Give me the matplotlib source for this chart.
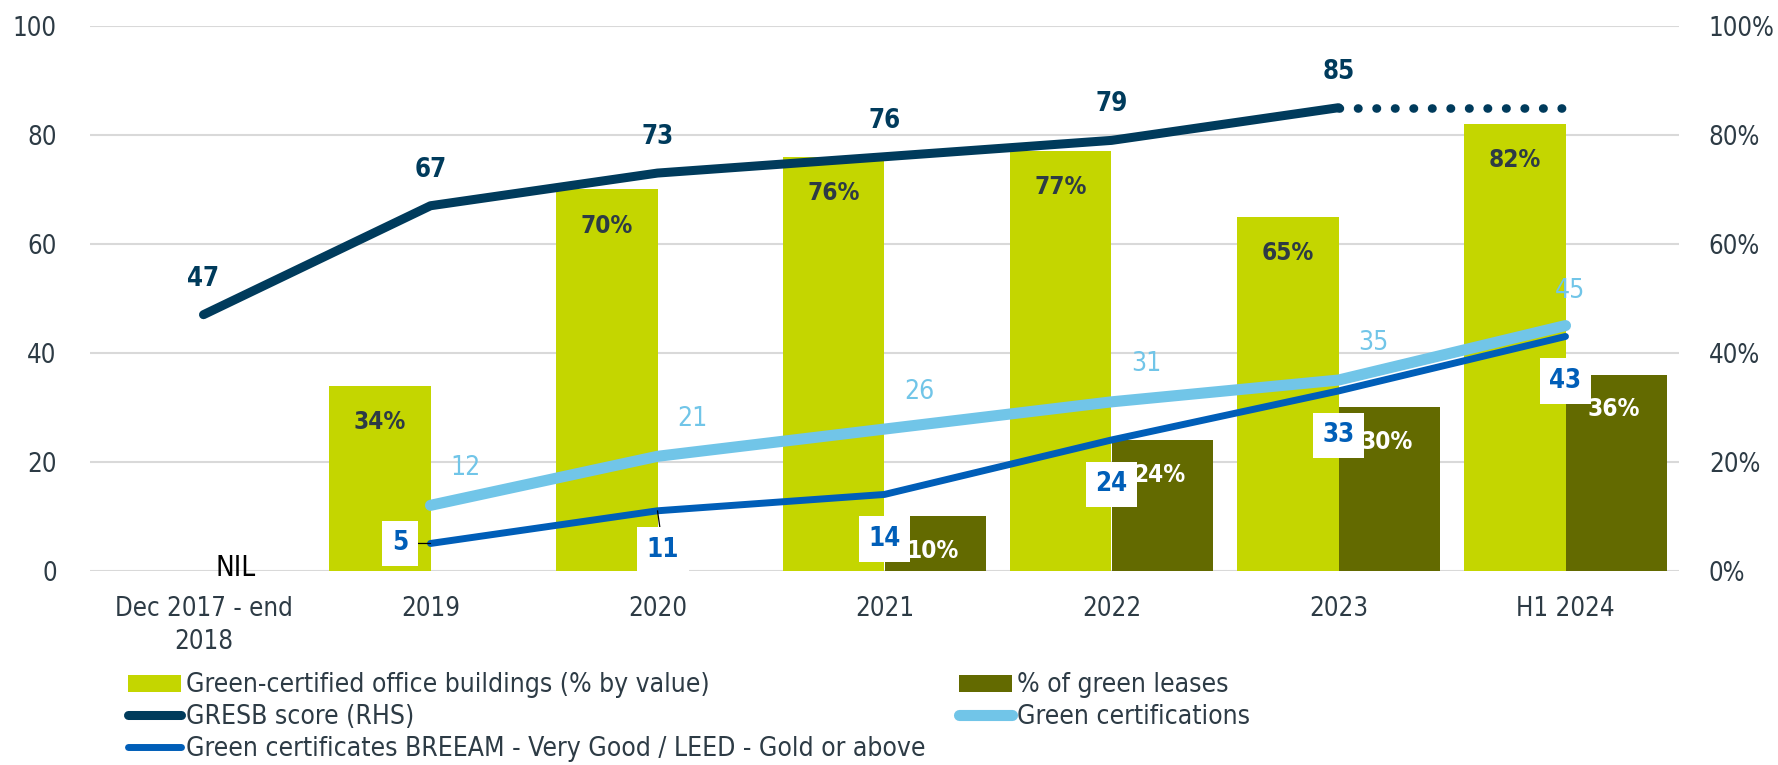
import matplotlib
matplotlib.use('Agg')
import matplotlib.pyplot as plt
import numpy as np
from matplotlib.patches import Patch
from matplotlib.lines import Line2D

plt.rcParams['font.family'] = ['DejaVu Sans']
plt.rcParams['font.stretch'] = 'condensed'

# Datos
categorias = ['Dec 2017 - end\n2018', '2019', '2020', '2021', '2022', '2023', 'H1 2024']
edificios_verdes = [np.nan, 34, 70, 76, 77, 65, 82]      # % por valor
arriendos_verdes = [np.nan, np.nan, np.nan, 10, 24, 30, 36]
gresb = [47, 67, 73, 76, 79, 85]                          # 2017-18 .. 2023
certificaciones = [np.nan, 12, 21, 26, 31, 35, 45]
breeam_leed = [np.nan, 5, 11, 14, 24, 33, 43]

# Colores
c_verde = '#c4d600'
c_oliva = '#636a00'
c_marino = '#003b5c'
c_celeste = '#71c5e8'
c_azul = '#005eb8'
c_texto = '#2d3b45'

fig = plt.figure(figsize=(17.78, 7.65), dpi=100)
ax = fig.add_axes([90/1778, 194.3/765, 1589/1778, 544.7/765])
ax2 = ax.twinx()

x = np.arange(len(categorias))
w = 0.445
ev = np.array(edificios_verdes, dtype=float)
av = np.array(arriendos_verdes, dtype=float)
m1 = ~np.isnan(ev)
m2 = ~np.isnan(av)

ax.bar(x[m1] - w/2, ev[m1], w, color=c_verde, zorder=2)
ax.bar(x[m2] + w/2, av[m2], w, color=c_oliva, zorder=2)

# Etiquetas de barras
for xi, v in zip(x[m1], ev[m1]):
    ax.annotate('{:.0f}%'.format(v), (xi - w/2, v), xytext=(0, -26), textcoords='offset points',
                ha='center', va='center', fontsize=17.5, fontweight='bold', color=c_texto, zorder=6)
for xi, v in zip(x[m2], av[m2]):
    ax.annotate('{:.0f}%'.format(v), (xi + w/2, v), xytext=(-2, -25), textcoords='offset points',
                ha='center', va='center', fontsize=17.5, fontweight='bold', color='white', zorder=6)
ax.annotate('NIL', (0, 0), xytext=(23, 2), textcoords='offset points',
            ha='center', va='center', fontsize=20, color='black', zorder=6)

# Lineas
cert = np.array(certificaciones, dtype=float)
bree = np.array(breeam_leed, dtype=float)
ax.plot(x[1:], cert[1:], color=c_celeste, lw=8, solid_capstyle='round', zorder=3)
ax.plot(x[1:], bree[1:], color=c_azul, lw=5, solid_capstyle='round', zorder=4)

off_cert = [(25, 27)] * 5 + [(3, 25)]
for xi, v, off in zip(x[1:], cert[1:], off_cert):
    ax.annotate('{:.0f}'.format(v), (xi, v), xytext=off, textcoords='offset points',
                ha='center', va='center', fontsize=19, color=c_celeste, zorder=6)

off_bree = [(-22, 0), (4, -28), (0, -32), (0, -32), (0, -32), (0, -32)]
flecha = [True, True, False, False, False, False]
for xi, v, off, f in zip(x[1:], bree[1:], off_bree, flecha):
    ap = dict(arrowstyle='-', color='black', lw=0.9, shrinkA=0, shrinkB=0) if f else None
    ax.annotate('{:.0f}'.format(v), (xi, v), xytext=off, textcoords='offset points',
                ha='center', va='center', fontsize=18.5, fontweight='bold', color=c_azul, zorder=7,
                bbox=dict(boxstyle='square,pad=0.38', fc='white', ec='none'),
                arrowprops=ap)

# GRESB (eje derecho); el tramo punteado repite el ultimo valor hasta H1 2024
xg = x[:len(gresb)]
ax2.plot(xg, gresb, color=c_marino, lw=6.5, solid_capstyle='round', zorder=3)
ax2.plot([xg[-1], x[-1]], [gresb[-1], gresb[-1]], color=c_marino, lw=6.2,
         linestyle=(0, (0.05, 2.1)), dash_capstyle='round', zorder=3)
for xi, v in zip(xg, gresb):
    ax2.annotate('{:.0f}'.format(v), (xi, v), xytext=(0, 26), textcoords='offset points',
                 ha='center', va='center', fontsize=18.5, fontweight='bold', color=c_marino, zorder=6)

# Ejes
ax.set_xlim(-0.5, 6.5)
ax.set_ylim(0, 100)
ax2.set_ylim(0, 100)
ax.set_yticks(np.arange(0, 101, 20))
ax2.set_yticks(np.arange(0, 101, 20))
ax2.set_yticklabels(['{}%'.format(t) for t in range(0, 101, 20)])
ax.set_xticks(x, categorias)
for t in ax.get_xticklabels():
    t.set_linespacing(1.35)
ax.yaxis.grid(True, color='#d9d9d9', lw=1.5)
ax.set_axisbelow(True)
for a in (ax, ax2):
    for s in a.spines.values():
        s.set_visible(False)
ax.tick_params(axis='x', length=0, pad=18, labelsize=18.5, labelcolor=c_texto)
ax.tick_params(axis='y', length=0, pad=24, labelsize=18.5, labelcolor=c_texto)
ax2.tick_params(axis='y', length=0, pad=21.5, labelsize=18.5, labelcolor=c_texto)

# Leyenda
h1 = [Patch(fc=c_verde),
      Line2D([], [], color=c_marino, lw=6.5, solid_capstyle='round'),
      Line2D([], [], color=c_azul, lw=5, solid_capstyle='round')]
t1 = ['Green-certified office buildings (% by value)', 'GRESB score (RHS)',
      'Green certificates BREEAM - Very Good / LEED - Gold or above']
h2 = [Patch(fc=c_oliva),
      Line2D([], [], color=c_celeste, lw=8, solid_capstyle='round')]
t2 = ['% of green leases', 'Green certifications']
opciones = dict(loc='upper left', frameon=False, fontsize=19, handlelength=2.0,
                handleheight=0.6, handletextpad=0.2, labelspacing=0.22, borderpad=0,
                borderaxespad=0, labelcolor=c_texto)
fig.legend(h1, t1, bbox_to_anchor=(128/1778, 0.121), **opciones)
fig.legend(h2, t2, bbox_to_anchor=(959/1778, 0.121), **opciones)

fig.savefig('out.png', dpi=100)
